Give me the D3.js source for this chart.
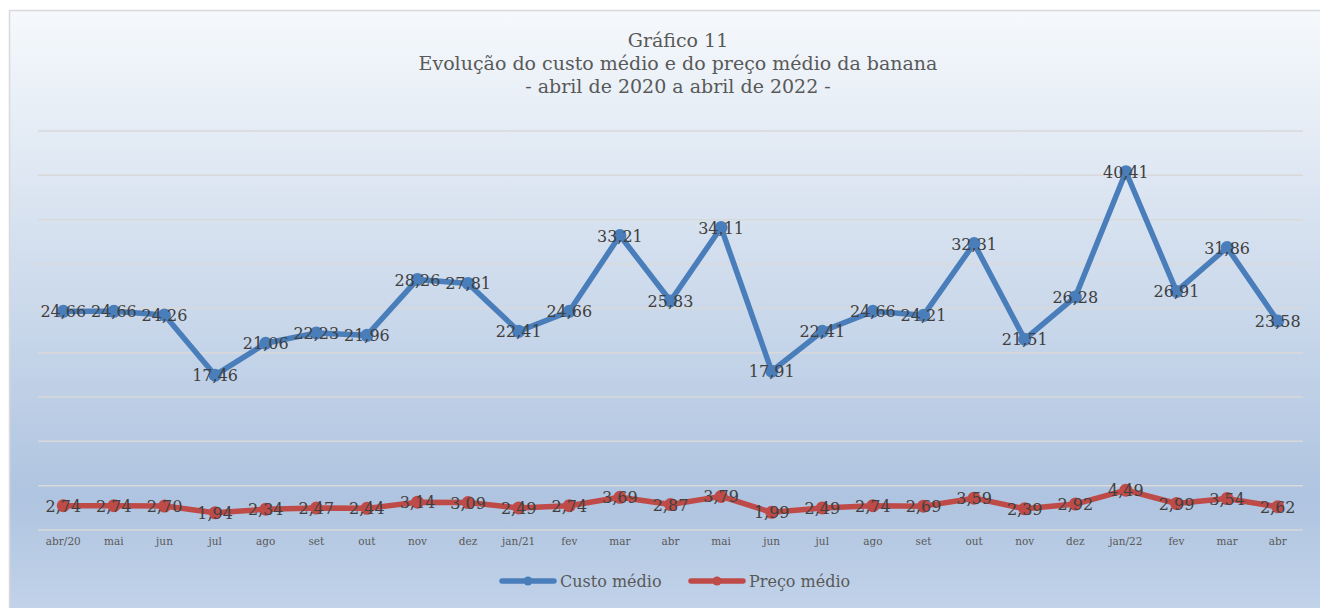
<!DOCTYPE html>
<html>
<head>
<meta charset="utf-8">
<script src="https://cdn.jsdelivr.net/npm/d3@7"></script>
<style>
  body { margin: 0; background: #fff; }
  svg { display: block; }
</style>
</head>
<body>
<svg id="chart" width="1320" height="608"></svg>
<script>
const months = ["abr/20", "mai", "jun", "jul", "ago", "set", "out", "nov", "dez", "jan/21",
  "fev", "mar", "abr", "mai", "jun", "jul", "ago", "set", "out", "nov", "dez", "jan/22",
  "fev", "mar", "abr"];
const custoMedio = [24.66, 24.66, 24.26, 17.46, 21.06, 22.23, 21.96, 28.26, 27.81, 22.41,
  24.66, 33.21, 25.83, 34.11, 17.91, 22.41, 24.66, 24.21, 32.31, 21.51, 26.28, 40.41,
  26.91, 31.86, 23.58];
const precoMedio = [2.74, 2.74, 2.70, 1.94, 2.34, 2.47, 2.44, 3.14, 3.09, 2.49,
  2.74, 3.69, 2.87, 3.79, 1.99, 2.49, 2.74, 2.69, 3.59, 2.39, 2.92, 4.49,
  2.99, 3.54, 2.62];
const titleLines = ["Gráfico 11", "Evolução do custo médio e do preço médio da banana", "- abril de 2020 a abril de 2022 -"];
const seriesNames = ["Custo médio", "Preço médio"];
const colors = ["#4a7ebb", "#be4b48"];

const margin = { top: 131, right: 17, bottom: 78, left: 38 };
const svg = d3.select("#chart");
const W = +svg.attr("width"), H = +svg.attr("height");
const width = W - margin.left - margin.right;
const height = H - margin.top - margin.bottom;
const serif = "'DejaVu Serif', serif";

// background gradient
const defs = svg.append("defs");
const grad = defs.append("linearGradient").attr("id", "bg")
  .attr("x1", 0).attr("y1", 0).attr("x2", 0).attr("y2", 1);
grad.append("stop").attr("offset", "0%").attr("stop-color", "#f6f9fc");
grad.append("stop").attr("offset", "80%").attr("stop-color", "#afc4e0");
grad.append("stop").attr("offset", "100%").attr("stop-color", "#c3d4ea");

svg.append("rect")
  .attr("x", 9.5).attr("y", 10.5)
  .attr("width", W).attr("height", H)
  .attr("fill", "url(#bg)")
  .attr("stroke", "#d9d9d9").attr("stroke-width", 1.5);

// title
svg.append("text")
  .attr("x", 678).attr("y", 47)
  .attr("text-anchor", "middle")
  .style("font-family", serif).style("font-size", "19px").style("fill", "#595959")
  .selectAll("tspan")
  .data(titleLines)
  .enter()
  .append("tspan")
  .attr("x", 678)
  .attr("dy", (d, i) => i === 0 ? 0 : 23)
  .text(d => d);

const g = svg.append("g").attr("transform", "translate(" + margin.left + "," + margin.top + ")");

const x = d3.scaleBand().domain(d3.range(months.length)).range([0, width]);
const y = d3.scaleLinear().domain([0, 45]).range([height, 0]);
const cx = i => x(i) + x.bandwidth() / 2;

// gridlines
g.append("g")
  .selectAll("line")
  .data(y.ticks(9))
  .enter()
  .append("line")
  .attr("x1", 0).attr("x2", width)
  .attr("y1", d => y(d)).attr("y2", d => y(d))
  .attr("stroke", "#d9d9d9").attr("stroke-width", 1.5);

// x axis labels
const xAxis = g.append("g")
  .attr("transform", "translate(0," + height + ")")
  .call(d3.axisBottom(x).tickSize(0).tickPadding(8).tickFormat(i => months[i]));
xAxis.select(".domain").remove();
xAxis.selectAll("text")
  .style("font-family", serif).style("font-size", "10.5px").style("fill", "#595959");

const line = d3.line().x((d, i) => cx(i)).y(d => y(d));
const fmt = v => v.toFixed(2).replace(".", ",");

[custoMedio, precoMedio].forEach((data, s) => {
  g.append("path")
    .datum(data)
    .attr("d", line)
    .attr("fill", "none")
    .attr("stroke", colors[s])
    .attr("stroke-width", 5.5)
    .attr("stroke-linejoin", "round");

  g.append("g")
    .selectAll("circle")
    .data(data)
    .enter()
    .append("circle")
    .attr("cx", (d, i) => cx(i))
    .attr("cy", d => y(d))
    .attr("r", 6.5)
    .attr("fill", colors[s]);

  g.append("g")
    .selectAll("text")
    .data(data)
    .enter()
    .append("text")
    .attr("x", (d, i) => cx(i))
    .attr("y", d => y(d))
    .attr("dy", "0.38em")
    .attr("text-anchor", "middle")
    .style("font-family", serif).style("font-size", "16px").style("fill", "#404040")
    .text(fmt);
});

// legend
const legend = svg.append("g").attr("transform", "translate(500,581)");
const items = legend.selectAll("g")
  .data(seriesNames)
  .enter()
  .append("g")
  .attr("transform", (d, i) => "translate(" + (i * 189) + ",0)");
items.append("line")
  .attr("x1", 2).attr("x2", 54)
  .attr("stroke", (d, i) => colors[i]).attr("stroke-width", 5.5)
  .attr("stroke-linecap", "round");
items.append("circle")
  .attr("cx", 28).attr("r", 4.5)
  .attr("fill", (d, i) => colors[i]);
items.append("text")
  .attr("x", 60).attr("dy", "0.35em")
  .style("font-family", serif).style("font-size", "16px").style("fill", "#595959")
  .text(d => d);
</script>
</body>
</html>
